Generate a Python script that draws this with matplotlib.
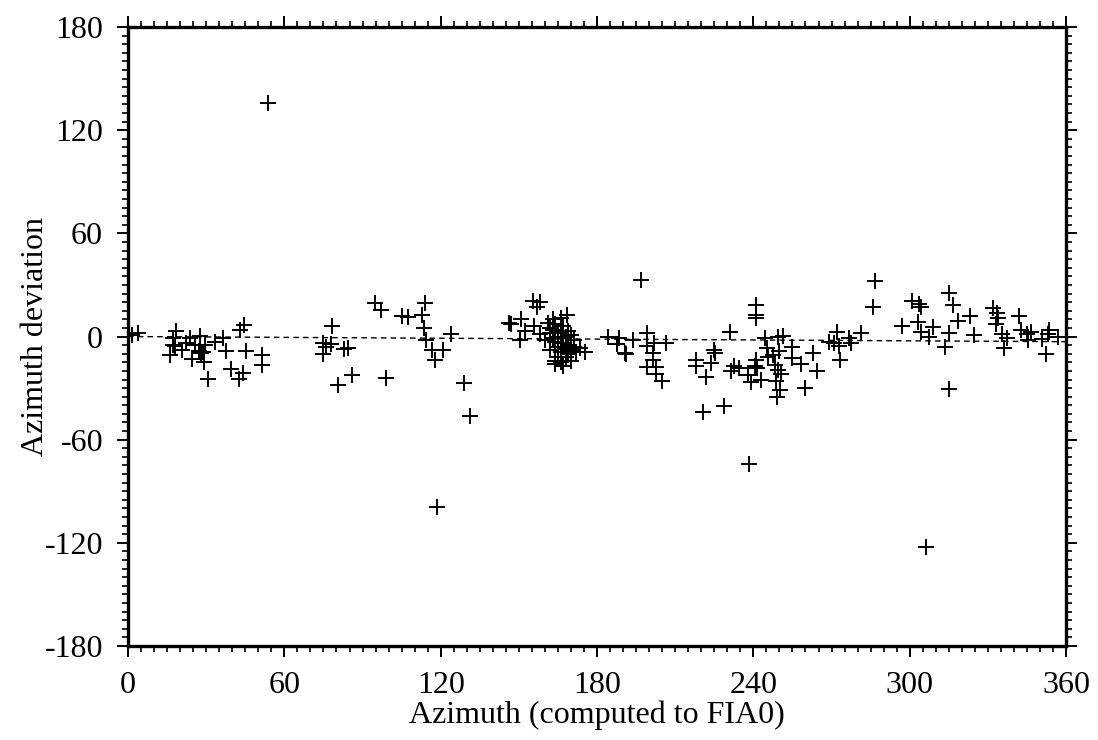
import matplotlib
matplotlib.use("Agg")
import matplotlib.pyplot as plt
from matplotlib.ticker import MultipleLocator

plt.rcParams['font.family'] = ['Liberation Serif', 'DejaVu Serif']
plt.rcParams['axes.unicode_minus'] = False

azimuth = [
    1.5, 3.7, 18.4, 17.4, 17.2, 16.1, 18.1, 20.9, 22.3, 23.8, 24.5, 25.7, 27.7, 27.3, 28.0, 28.6,
    29.6, 29.3, 30.6, 33.4, 36.4, 37.6, 39.6, 43.0, 44.7, 45.2, 42.4, 44.3, 51.6, 51.4, 53.8,
    78.2, 75.0, 77.9, 74.8, 76.0, 82.7, 84.6, 80.4, 85.9, 99.1, 94.9, 97.1, 105.1, 107.3,
    114.1, 112.8, 113.4, 114.5, 116.6, 120.7, 117.7, 124.0, 129.1, 131.4, 118.7,
    146.1, 146.8, 150.8, 152.5, 150.6, 155.5, 158.3, 157.0, 155.7, 158.3, 168.3, 173.6, 175.3,
    161, 162, 162, 163, 163, 164, 164, 164, 165, 165, 165, 165, 166, 166, 166, 167, 167, 167,
    168, 168, 168, 169, 169, 169, 170, 170, 171, 171, 172, 163, 166, 160, 162, 164, 167, 170,
    184.1, 188.4, 187.7, 190.9, 196.7, 193.9, 191.0, 199.0, 199.3, 201.8, 201.6, 201.6, 202.5,
    199.0, 202.8, 205.0, 206.3, 231.0, 217.8, 217.8, 222.0, 223.6, 225.1, 224.8, 220.8, 228.7,
    232.5, 231.3, 234.5, 237.9, 239.2, 240.9, 241.5, 243.0, 240.9, 240.9, 240.9, 244.3, 240.5,
    245.1, 245.6, 247.6, 248.2, 249.8, 249.4, 250.7, 248.5, 250.4, 249.2, 249.4, 251.5, 254.7,
    255.0, 258.2, 259.7, 262.7, 264.3, 238.2,
    269.0, 271.0, 272.2, 272.9, 273.3, 276.7, 277.4, 281.2, 286.6, 286.1, 296.9, 300.7, 303.6,
    304.5, 303.0, 304.3, 307.5, 309.1, 315.1, 316.8, 318.4, 315.1, 313.6, 315.1, 323.2, 324.5,
    331.8, 333.4, 333.7, 333.0, 335.6, 337.3, 336.0, 342.1, 342.7, 345.2, 346.5, 345.5, 350.6,
    352.9, 353.5, 352.3, 356.8, 306.2,
]
deviation = [
    0.8, 2.2, 3.0, -0.6, -4.9, -10.6, -5.7, -8.0, -3.8, -0.9, -13.1, -4.8, 0.2, -8.6, -9.5, -8.8,
    -5.2, -15.0, -24.7, -3.1, -0.6, -8.4, -19.0, 3.8, 6.7, -8.2, -24.5, -21.0, -11.0, -16.8, 136.0,
    6.3, -3.7, -4.6, -10.2, -6.0, -7.3, -6.7, -28.4, -22.6, -24.3, 19.7, 15.5, 12.2, 11.3,
    19.5, 12.3, 5.2, -1.8, -8.0, -7.9, -13.8, 1.3, -27.3, -46.3, -99.0,
    8.0, 7.4, 10.3, 3.2, -2.2, 20.7, 19.8, 16.9, 6.2, 1.4, 12.8, -6.4, -8.9,
    8, 5, 2, -1, 4, 7, -3, -14, 0, 3, -6, -12, -15, 2, -9, -4, -1, -17,
    -7, 0, -12, -5, -10, 3, -8, -14, -2, -6, -9, 10, 11, -2, -8, -16, 6, 1,
    -0.1, -1.0, -4.3, -9.7, 33.0, -2.0, -10.3, 2.0, -5.7, -3.7, -9.5, -13.4, -17.8,
    -17.9, -22.0, -25.8, -4.0, 2.6, -13.8, -17.0, -23.4, -15.6, -9.8, -8.0, -44.0, -40.2,
    -17.3, -20.0, -18.1, -22.5, -26.4, -13.4, -18.1, -25.4, 18.3, 12.4, 11.0, -0.7, -17.0,
    -6.9, -11.8, -10.7, -16.5, -8.2, -19.4, -21.7, -25.6, -31.0, -34.9, 0.0, 0.4, -5.9,
    -12.7, -15.9, -30.0, -9.3, -19.8, -74.0,
    -3.2, -3.6, 2.6, -5.5, -13.6, -0.6, -3.5, 2.3, 32.2, 17.0, 6.0, 20.6, 18.7,
    17.3, 8.6, 2.8, 0.0, 5.8, 25.3, 18.5, 9.2, 2.0, -6.3, -30.3, 12.2, 0.8,
    16.8, 13.9, 11.0, 7.1, 1.3, -1.0, -6.4, 12.1, 3.8, 1.5, 2.4, -2.0, -1.3,
    1.6, 4.0, -10.4, 0.0, -122.4,
]
trend_x = [0, 360]
trend_y = [0, -3]

xticks = [0, 60, 120, 180, 240, 300, 360]
yticks = [-180, -120, -60, 0, 60, 120, 180]

fig = plt.figure(figsize=(10.98, 7.40), dpi=100)
ax = fig.add_axes([0.1166, 0.127, 0.8543, 0.8365])

ax.plot(trend_x, trend_y, color='black', lw=1.0, ls=(0, (4, 3)), zorder=2)
ax.plot(azimuth, deviation, ls='none', marker='+', color='black',
        ms=12, mew=1.4, zorder=3)

ax.set_xlim(0, 360)
ax.set_ylim(-180, 180)
ax.set_xticks(xticks)
ax.set_yticks(yticks)
ax.xaxis.set_minor_locator(MultipleLocator(5))
ax.yaxis.set_minor_locator(MultipleLocator(5))
ax.tick_params(which='both', direction='out', top=True, right=True,
               labeltop=False, labelright=False, color='black')
ax.tick_params(which='major', length=8, width=1.4, labelsize=23, pad=10)
ax.tick_params(which='minor', length=4, width=1.2)
for s in ax.spines.values():
    s.set_linewidth(2.4)

ax.set_xlabel('Azimuth (computed to FIA0)', fontsize=23, labelpad=0)
ax.set_ylabel('Azimuth deviation', fontsize=23, labelpad=-4)

fig.savefig('out.png', dpi=100)
